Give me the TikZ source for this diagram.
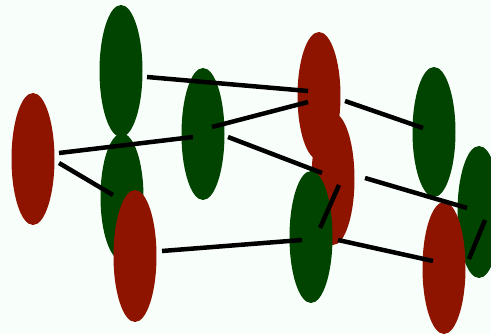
\documentclass[tikz,border=0pt]{standalone}
\usetikzlibrary{shapes.geometric}
\definecolor{bg}{RGB}{248,255,250}
\definecolor{redc}{RGB}{143,20,0}
\definecolor{greenc}{RGB}{0,68,0}
\begin{document}
\begin{tikzpicture}[x=1pt,y=-1pt,
  blob/.style={ellipse,inner sep=0pt,draw=none,minimum width=43pt,minimum height=132pt},
  rb/.style={blob,fill=redc},
  gb/.style={blob,fill=greenc},
  link/.style={line width=4.5pt,black}]
\fill[bg] (0,0) rectangle (491,334);
\useasboundingbox (0,0) rectangle (491,334);
\node[rb] (e1) at (33,159) {};
\node[gb] (e2) at (121,71) {};
\node[gb,minimum height=127pt] (e3) at (122,197) {};
\node[rb] (e5) at (135,256) {};
\node[gb] (e4) at (203,134) {};
\node[rb,minimum height=128pt] (e6) at (319,96) {};
\node[rb] (e7) at (333,179) {};
\node[gb] (e8) at (311,237) {};
\node[gb,minimum height=130pt] (e9) at (434,132) {};
\node[gb] (e10) at (479,212) {};
\node[rb] (e11) at (444,268) {};
% connector end points
\coordinate (a1) at (147,77);  \coordinate (b1) at (308,91);
\coordinate (a2) at (59,153);  \coordinate (b2) at (193,137);
\coordinate (a3) at (212,127); \coordinate (b3) at (308,102);
\coordinate (a4) at (59,163);  \coordinate (b4) at (113,195);
\coordinate (a5) at (228,137); \coordinate (b5) at (322,173);
\coordinate (a6) at (162,251); \coordinate (b6) at (302,240);
\coordinate (a7) at (345,101); \coordinate (b7) at (423,128);
\coordinate (a8) at (339,185); \coordinate (b8) at (320,228);
\coordinate (a9) at (365,178); \coordinate (b9) at (467,208);
\coordinate (a10) at (338,240); \coordinate (b10) at (433,261);
\coordinate (a11) at (485,220); \coordinate (b11) at (469,259);
\foreach \i in {1,...,11} \draw[link] (a\i) -- (b\i);
\end{tikzpicture}
\end{document}
